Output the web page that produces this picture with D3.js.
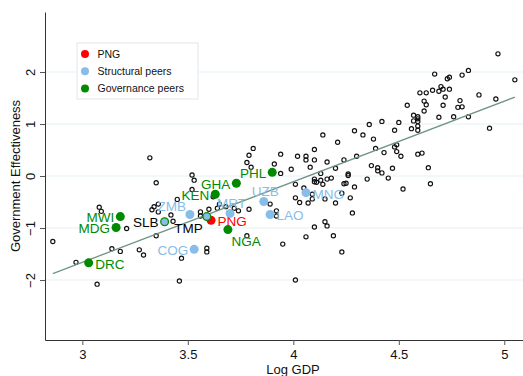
<!DOCTYPE html>
<html>
<head>
<meta charset="utf-8">
<script src="https://cdn.jsdelivr.net/npm/d3@7"></script>
<style>
  body { margin: 0; background: #fff; }
  svg { display: block; font-family: "Liberation Sans", Arial, Helvetica, sans-serif; }
</style>
</head>
<body>
<script>
// all other countries: log GDP per capita and government effectiveness
var gdp = [2.86,2.97,3.07,3.08,3.09,3.14,3.18,3.21,3.27,3.29,
  3.32,3.35,3.33,3.34,3.36,3.36,3.42,3.43,3.35,3.45,
  3.47,3.46,3.52,3.53,3.52,3.56,3.56,3.59,3.59,3.62,
  3.60,3.64,3.65,3.68,3.72,3.74,3.79,3.78,3.78,3.79,
  3.81,3.80,3.91,3.94,3.94,3.99,3.89,3.92,3.92,3.95,
  4.01,4.02,4.06,4.06,4.10,4.30,4.24,4.16,4.08,4.20,
  4.37,4.40,4.47,4.64,4.40,4.42,4.13,4.26,4.26,4.35,
  4.45,4.10,4.16,4.18,4.10,4.11,4.13,4.14,4.01,4.05,
  4.24,4.25,4.29,4.65,4.52,4.01,4.03,4.07,4.09,4.09,
  4.15,4.23,4.20,4.27,4.28,4.15,4.16,4.10,4.19,4.06,
  4.23,4.97,5.05,4.83,4.80,4.67,4.74,4.73,4.70,4.66,
  4.69,4.71,4.74,4.60,4.63,4.72,4.88,4.96,4.79,4.62,
  4.63,4.54,4.71,4.80,4.78,4.62,4.57,4.59,4.59,4.57,
  4.59,4.69,4.76,4.83,4.50,4.42,4.36,4.59,4.56,4.59,
  4.48,4.29,4.33,4.14,4.93,4.38,4.21,4.49,4.48,4.39,
  4.10,4.49,4.43,4.59,4.61,4.51];
var ge = [-1.26,-1.66,-2.08,-0.60,-0.68,-1.40,-1.45,-1.01,-1.42,-1.52,
  0.35,-0.13,-0.65,-0.59,-0.54,-0.69,-0.75,-0.87,-1.15,-0.45,
  -1.58,-2.02,0.02,-0.08,-0.26,-0.69,-0.77,-1.39,-1.46,-0.40,
  -0.64,-0.62,-0.54,-0.59,-0.62,-0.67,-0.64,-1.15,0.26,0.40,
  0.53,0.17,0.23,0.42,0.05,0.13,-0.54,-0.67,-0.77,-1.31,
  -2.00,0.38,0.38,0.31,0.31,0.38,0.31,0.27,0.17,0.15,
  0.20,0.16,0.15,0.16,0.10,0.06,0.05,0.04,0.01,-0.06,
  -0.04,-0.06,-0.06,-0.04,-0.11,-0.12,-0.08,-0.16,-0.16,-0.23,
  -0.15,-0.14,-0.21,-0.15,-0.25,-0.42,-0.51,-0.52,-0.44,-0.35,
  -0.44,-0.33,-0.52,-0.42,-0.71,-0.88,-0.96,-0.98,-1.15,-1.17,
  -1.46,2.35,1.85,2.03,1.94,1.96,1.90,1.87,1.72,1.65,
  1.63,1.67,1.67,1.60,1.60,1.52,1.56,1.48,1.45,1.44,
  1.37,1.36,1.36,1.33,1.32,1.25,1.17,1.14,1.10,1.06,
  1.05,1.13,1.14,1.14,1.03,1.05,0.99,0.96,0.91,0.88,
  0.88,0.87,0.79,0.79,0.92,0.71,0.65,0.60,0.56,0.53,
  0.51,0.47,0.45,0.42,0.44,0.38];

// highlighted countries
var codes = ["PNG","ZMB","COG","MRT","UZB","LAO","MNG","MWI","MDG","DRC","GHA","PHL","KEN","NGA","SLB","TMP"];
var codeGdp = [3.61,3.51,3.53,3.70,3.86,3.89,4.06,3.18,3.16,3.03,3.73,3.90,3.63,3.69,3.39,3.59];
var codeGe = [-0.85,-0.74,-1.41,-0.72,-0.49,-0.74,-0.32,-0.78,-0.99,-1.67,-0.14,0.07,-0.35,-1.03,-0.88,-0.78];
var codeGroup = ["png","struct","struct","struct","struct","struct","struct","gov","gov","gov","gov","gov","gov","gov","both","both"];
// label clock position, like mlabvposition
var codeClock = [3,10,9,12,12,3,3,9,9,3,9,9,9,4,9,8];

// linear fit: GE = a + b * logGDP
var fitA = -6.31, fitB = 1.55;
var fitRange = [2.86, 5.05];

var yTicks = [-2,-1,0,1,2];
var xTicks = [3,3.5,4,4.5,5];
var legendLabels = ["PNG","Structural peers","Governance peers"];

var red = "#ff0000", blue = "#87bde8", green = "#008a00";
var groupColor = {png: red, struct: blue, gov: green, both: green};
var labelColor = {png: red, struct: blue, gov: green, both: "#000"};

var width = 523, height = 376;
var svg = d3.select("body").append("svg")
  .attr("width", width).attr("height", height);

var x = d3.scaleLinear().domain([2.823, 5.174]).range([45, 541]);
var y = d3.scaleLinear().domain([-3.154, 3.154]).range([340, 12]);

// grid
svg.append("g").selectAll("line").data(yTicks).enter().append("line")
  .attr("x1", 45).attr("x2", width)
  .attr("y1", function(d){ return y(d); }).attr("y2", function(d){ return y(d); })
  .attr("stroke", "#e6eff3").attr("stroke-width", 1);

// axes
var yAxis = svg.append("g").attr("transform", "translate(45,0)")
  .call(d3.axisLeft(y).tickValues(yTicks).tickSize(5).tickSizeOuter(0).tickFormat(d3.format("d")));
yAxis.selectAll("text")
  .attr("transform", "rotate(-90)")
  .attr("x", 0).attr("y", -10).attr("dy", null)
  .attr("text-anchor", "middle");

var xAxis = svg.append("g").attr("transform", "translate(0,340)")
  .call(d3.axisBottom(x).tickValues(xTicks).tickSize(5).tickPadding(5).tickSizeOuter(0).tickFormat(d3.format("")));

svg.selectAll(".domain").attr("stroke", "#333");
svg.selectAll(".tick line").attr("stroke", "#555");
svg.selectAll(".tick text").attr("font-size", 13).attr("fill", "#111")
  .attr("font-family", "'Liberation Sans', Arial, sans-serif");

// axis titles
svg.append("text")
  .attr("transform", "translate(19.5," + ((y.range()[0] + y.range()[1]) / 2) + ") rotate(-90)")
  .attr("text-anchor", "middle").attr("font-size", 13).attr("fill", "#111")
  .text("Government Effectiveness");
svg.append("text")
  .attr("x", (x.range()[0] + x.range()[1]) / 2).attr("y", 373.5)
  .attr("text-anchor", "middle").attr("font-size", 13).attr("fill", "#111")
  .text("Log GDP");

// other countries
svg.append("g").selectAll("circle").data(d3.range(gdp.length)).enter().append("circle")
  .attr("cx", function(i){ return x(gdp[i]); })
  .attr("cy", function(i){ return y(ge[i]); })
  .attr("r", 2.1)
  .attr("fill", "none").attr("stroke", "#111").attr("stroke-width", 1.15);

// fit line
svg.append("line")
  .attr("x1", x(fitRange[0])).attr("y1", y(fitA + fitB * fitRange[0]))
  .attr("x2", x(fitRange[1])).attr("y2", y(fitA + fitB * fitRange[1]))
  .attr("stroke", "#6f9484").attr("stroke-width", 1.3);

// highlighted markers
var marks = svg.append("g").selectAll("g").data(d3.range(codes.length)).enter().append("g");
marks.append("circle")
  .attr("cx", function(i){ return x(codeGdp[i]); })
  .attr("cy", function(i){ return y(codeGe[i]); })
  .attr("r", 4.5)
  .attr("fill", function(i){ return groupColor[codeGroup[i]]; });
marks.filter(function(i){ return codeGroup[i] == "both"; }).append("circle")
  .attr("cx", function(i){ return x(codeGdp[i]); })
  .attr("cy", function(i){ return y(codeGe[i]); })
  .attr("r", 3.2)
  .attr("fill", blue);

// label offsets by clock position
var clockPos = {
  3: {dx: 6.5, dy: 6, anchor: "start"},
  4: {dx: 3.5, dy: 16, anchor: "start"},
  8: {dx: -4, dy: 16.5, anchor: "end"},
  9: {dx: -6, dy: 5.5, anchor: "end"},
  10: {dx: -4, dy: -3, anchor: "end"},
  12: {dx: 1.5, dy: -5, anchor: "middle"}
};
marks.append("text")
  .attr("x", function(i){ return x(codeGdp[i]) + clockPos[codeClock[i]].dx; })
  .attr("y", function(i){ return y(codeGe[i]) + clockPos[codeClock[i]].dy; })
  .attr("text-anchor", function(i){ return clockPos[codeClock[i]].anchor; })
  .attr("font-size", 13.5)
  .attr("fill", function(i){ return labelColor[codeGroup[i]]; })
  .text(function(i){ return codes[i]; });

// legend
var legend = svg.append("g").attr("transform", "translate(77,43)");
legend.append("rect").attr("width", 121).attr("height", 56)
  .attr("fill", "#fff").attr("stroke", "#dfe7eb");
var legendColors = [red, blue, green];
legendLabels.forEach(function(t, i){
  var cy = 11 + i * 17.3;
  legend.append("circle").attr("cx", 8).attr("cy", cy).attr("r", 4).attr("fill", legendColors[i]);
  legend.append("text").attr("x", 20.5).attr("y", cy + 3.8)
    .attr("font-size", 10.5).attr("fill", "#111").text(t);
});
</script>
</body>
</html>
